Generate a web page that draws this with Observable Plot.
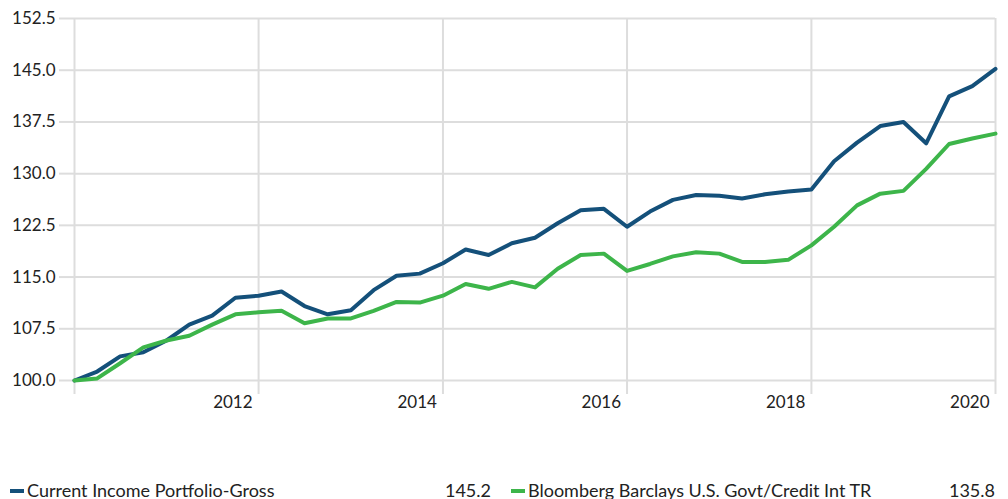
<!DOCTYPE html>
<html><head><meta charset="utf-8">
<script src="https://cdn.jsdelivr.net/npm/d3@7"></script>
<script src="https://cdn.jsdelivr.net/npm/@observablehq/plot@0.6"></script>
<style>
body{margin:0;background:#fff;font-family:Lato,sans-serif;width:1008px;height:499px;overflow:hidden;position:relative}
#chart{position:absolute;top:0;left:0}
#legend{position:absolute;top:480px;left:0;width:1008px;height:24px;font-size:18px;color:#222;line-height:21px}
.item{position:absolute;top:0;height:21px;white-space:nowrap}
.sw{position:absolute;top:9px;left:0;width:14px;height:4px}
.lab{position:absolute;top:0;left:17px}
.val{position:absolute;top:0;right:0}
</style></head>
<body>
<div id="chart"></div>
<div id="legend"></div>
<script>
const quarters = ["2010-01-01","2010-04-01","2010-07-01","2010-10-01","2011-01-01","2011-04-01","2011-07-01","2011-10-01",
"2012-01-01","2012-04-01","2012-07-01","2012-10-01","2013-01-01","2013-04-01","2013-07-01","2013-10-01",
"2014-01-01","2014-04-01","2014-07-01","2014-10-01","2015-01-01","2015-04-01","2015-07-01","2015-10-01",
"2016-01-01","2016-04-01","2016-07-01","2016-10-01","2017-01-01","2017-04-01","2017-07-01","2017-10-01",
"2018-01-01","2018-04-01","2018-07-01","2018-10-01","2019-01-01","2019-04-01","2019-07-01","2019-10-01","2020-01-01"];
const portfolio = [100.0,101.3,103.5,104.1,105.8,108.1,109.4,112.0,112.3,112.9,110.8,109.6,110.2,113.1,115.2,115.5,
117.0,119.0,118.2,119.9,120.7,122.8,124.7,124.9,122.3,124.5,126.2,126.9,126.8,126.4,127.0,127.4,127.7,
131.8,134.5,136.9,137.5,134.4,141.2,142.7,145.2];
const benchmark = [100.0,100.3,102.5,104.8,105.8,106.5,108.1,109.6,109.9,110.1,108.3,109.0,109.0,110.1,111.4,111.3,
112.3,114.0,113.3,114.3,113.5,116.2,118.2,118.4,115.9,116.9,118.0,118.6,118.4,117.2,117.2,117.5,119.6,
122.3,125.4,127.1,127.5,130.7,134.3,135.1,135.8];
const seriesNames = ["Current Income Portfolio-Gross","Bloomberg Barclays U.S. Govt/Credit Int TR"];
const seriesColors = ["#14507a","#3db54a"];
const finalValues = ["145.2","135.8"];
const yTicks = [100.0,107.5,115.0,122.5,130.0,137.5,145.0,152.5];
const xTickDates = ["2010-01-01","2012-01-01","2014-01-01","2016-01-01","2018-01-01","2020-01-01"];
const xTickLabels = ["","2012","2014","2016","2018","2020"];

const dates = quarters.map(d => new Date(d + "T00:00:00Z"));
const xt = xTickDates.map(d => new Date(d + "T00:00:00Z"));
const rows = [];
dates.forEach((d,i) => {
  rows.push({date:d, value:portfolio[i], series:seriesNames[0]});
  rows.push({date:d, value:benchmark[i], series:seriesNames[1]});
});
const grid = "#dddddd";
const chart = Plot.plot({
  width:1008, height:420, marginLeft:74, marginRight:13, marginTop:18, marginBottom:40,
  style:{fontFamily:"Lato, sans-serif", fontSize:"17px", color:"#222", background:"#fff", overflow:"visible"},
  x:{type:"utc", domain:[xt[0], xt[xt.length-1]], label:null},
  y:{domain:[100,152.5], label:null},
  color:{domain:seriesNames, range:seriesColors},
  marks:[
    Plot.gridY(yTicks, {stroke:grid, strokeOpacity:1, strokeWidth:2}),
    Plot.gridX(xt, {stroke:grid, strokeOpacity:1, strokeWidth:2}),
    Plot.axisY(yTicks, {tickSize:15, tickPadding:4, stroke:grid, strokeWidth:2, tickFormat:d => d.toFixed(1), fill:"#222", label:null}),
    Plot.axisX(xt, {tickSize:14, stroke:grid, strokeWidth:2, tickFormat:() => "", label:null}),
    Plot.axisX(xt, {tickSize:0, tickPadding:15, textAnchor:"end", dx:-6, fill:"#222", label:null,
      tickFormat:(d) => xTickLabels[xt.findIndex(t => +t === +d)]}),
    Plot.lineY(rows, {x:"date", y:"value", z:"series", stroke:"series", strokeWidth:4, strokeLinejoin:"round"})
  ]
});
document.getElementById("chart").append(chart);

const legend = document.getElementById("legend");
const lefts = [10, 511], widths = [481, 484];
seriesNames.forEach((name,i) => {
  const it = document.createElement("div");
  it.className = "item";
  it.style.left = lefts[i] + "px";
  it.style.width = widths[i] + "px";
  it.innerHTML = `<span class="sw" style="background:${seriesColors[i]}"></span><span class="lab">${name}</span><span class="val">${finalValues[i]}</span>`;
  legend.append(it);
});
</script>
</body></html>
